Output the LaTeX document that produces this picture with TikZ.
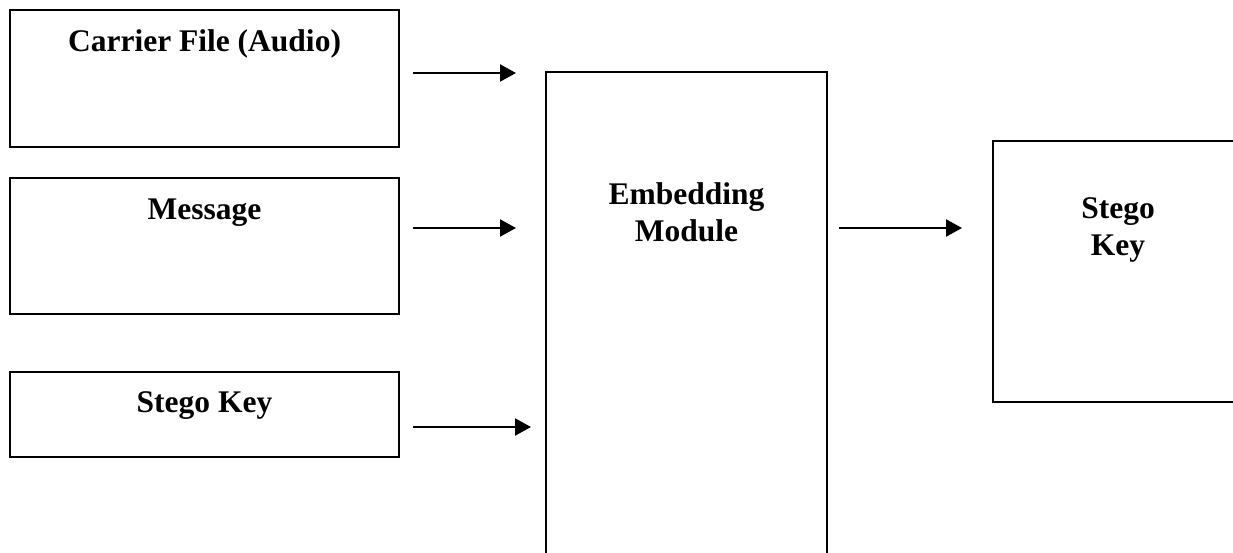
\documentclass[tikz,border=0pt]{standalone}
\usepackage{fontspec}
\setmainfont{Liberation Serif}
\usetikzlibrary{arrows.meta}
\begin{document}
\begin{tikzpicture}
[x=1pt,y=-1pt,
  boxDecorate/.style={shape=rectangle,draw,line width=2pt,inner sep=0pt},%
  textDecorate/.style={anchor=base,align=center,inner sep=0pt,
    font=\fontsize{31.5}{37}\selectfont\bfseries},%
  arrowDecorate/.style={-{Triangle[length=16pt,width=17pt]},line width=2.2pt}]
\clip (0,0) rectangle (1233,553);
%% input boxes on the left
\foreach \nodename/\y/\h/\base/\txt in {
  carrier/78.5/137/52/{Carrier File (Audio)},
  message/246/136/220/{Message},
  key/414.5/85/412/{Stego Key}}
{
  \node (\nodename) at (204.5,\y) [boxDecorate,minimum width=389,minimum height=\h] {};
  \node (\nodename text) at (204.5,\base) [textDecorate] {\txt};
}
%% module and output box
\node (embed) at (686.5,336) [boxDecorate,minimum width=281,minimum height=528] {};
\node (embedtext) at (686.5,242) [textDecorate] {Embedding\\Module};
\node (stego) at (1138,271.5) [boxDecorate,minimum width=290,minimum height=261] {};
\node (stegotext) at (1118,255) [textDecorate] {Stego\\Key};
%% arrows
\foreach \startnode/\y/\gap in {carrier/73/29, message/228/29, key/427/14}
{
  \draw[arrowDecorate,shorten <=13pt,shorten >=\gap pt]
    (\startnode.east |- 0,\y) -- (embed.west |- 0,\y);
}
\draw[arrowDecorate,shorten <=11pt,shorten >=30pt]
  (embed.east |- 0,228) -- (stego.west |- 0,228);
\end{tikzpicture}
\end{document}
